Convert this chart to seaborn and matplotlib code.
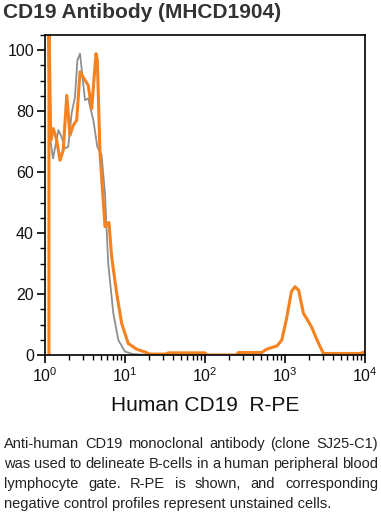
import numpy as np
import pandas as pd
import seaborn as sns
import matplotlib.pyplot as plt
from matplotlib.ticker import MultipleLocator, LogLocator

# Text
title = "CD19 Antibody (MHCD1904)"
x_label = "Human CD19  R-PE"
caption_lines = [
    "Anti-human CD19 monoclonal antibody (clone SJ25-C1)",
    "was used to delineate B-cells in a human peripheral blood",
    "lymphocyte gate. R-PE is shown, and corresponding",
    "negative control profiles represent unstained cells.",
]

# CD19 R-PE stained profile
cd19_x = [1.12, 1.12, 1.18, 1.27, 1.40, 1.54, 1.69, 1.87, 2.05, 2.26, 2.49, 2.74,
          3.16, 3.47, 3.83, 4.34, 4.51, 4.87, 5.62, 6.30, 6.81, 7.87, 9.08, 10.96,
          14.0, 18.6, 20.0, 32.0, 35.0, 100.0, 105.0, 250.0, 260.0, 510.0, 590.0,
          795.0, 912.0, 1047.0, 1202.0, 1334.0, 1479.0, 1698.0, 1862.0, 2138.0,
          2630.0, 3020.0, 8710.0, 10000.0]
cd19_y = [0, 110, 70.5, 74.3, 70.5, 63.9, 67.2, 85.2, 72.1, 75.4, 77.0, 92.9,
          90.2, 88.5, 80.8, 98.9, 96.7, 66.1, 42.1, 43.5, 32.2, 20.2, 10.4, 3.8,
          1.9, 0.8, 0.3, 0.3, 0.7, 0.7, 0.0, 0.0, 0.8, 0.8, 1.9,
          3.0, 4.9, 12.0, 20.8, 22.4, 21.3, 13.7, 12.0, 9.3,
          3.8, 0.5, 0.5, 1.0]

# unstained negative control
neg_x = [1.08, 1.15, 1.26, 1.47, 1.61, 1.78, 1.95, 2.15, 2.37, 2.54, 2.74, 3.16,
         3.47, 4.02, 4.51, 5.10, 5.62, 6.17, 7.14, 8.26, 10.0, 12.6, 20.0, 10000.0]
neg_y = [110, 71.6, 64.5, 73.8, 71.6, 67.8, 68.3, 79.2, 84.7, 96.7, 98.9, 83.6,
         84.2, 77.0, 68.3, 65.6, 53.0, 30.0, 13.7, 4.9, 1.1, 0.3, 0.0, 0.0]

cd19 = pd.DataFrame({"intensity": cd19_x, "count": cd19_y})
neg = pd.DataFrame({"intensity": neg_x, "count": neg_y})

sns.set_style("ticks")
plt.rcParams["font.family"] = ["Liberation Sans", "DejaVu Sans"]
plt.rcParams["mathtext.fontset"] = "custom"
plt.rcParams["mathtext.rm"] = "Liberation Sans"

W, H = 381, 515
fig = plt.figure(figsize=(W / 100, H / 100), dpi=100)
ax = fig.add_axes([45 / W, 160 / H, 320 / W, 320 / H])

sns.lineplot(data=neg, x="intensity", y="count", ax=ax, color="#8f8f8f",
             linewidth=1.3, sort=False, estimator=None)
sns.lineplot(data=cd19, x="intensity", y="count", ax=ax, color="#f5821f",
             linewidth=2.2, sort=False, estimator=None)

ax.set_xscale("log")
ax.set_xlim(1, 1e4)
ax.set_ylim(0, 105)
ax.yaxis.set_major_locator(MultipleLocator(20))
ax.yaxis.set_minor_locator(MultipleLocator(5))
ax.xaxis.set_major_locator(LogLocator(base=10))
ax.xaxis.set_minor_locator(LogLocator(base=10, subs=np.arange(2, 10)))

for s in ax.spines.values():
    s.set_color("black")
    s.set_linewidth(1.2)
ax.tick_params(which="major", direction="out", length=6, width=1.2,
               labelsize=11.5, color="black", labelcolor="#111111", pad=2)
ax.tick_params(which="minor", direction="out", length=3.6, width=1.0, color="black")

ax.set_xlabel(x_label, fontsize=15, color="#111111", labelpad=8)
ax.set_ylabel("")

fig.text(3 / W, 1 - 12 / H, title, fontsize=15, fontweight="bold",
         color="#333333", va="center", ha="left")

# justified caption
renderer = fig.canvas.get_renderer()
left, right = 4, 378
line_y = [444, 464, 484, 504]
cap_size = 10.5
for i, line in enumerate(caption_lines):
    yy = 1 - line_y[i] / H
    if i == len(caption_lines) - 1:
        fig.text(left / W, yy, line, fontsize=cap_size, color="#222222",
                 va="center", ha="left")
        continue
    words = line.split()
    pieces = [fig.text(0, yy, w, fontsize=cap_size, color="#222222",
                       va="center", ha="left") for w in words]
    widths = [p.get_window_extent(renderer).width for p in pieces]
    gap = (right - left - sum(widths)) / (len(words) - 1)
    x = left
    for p, w in zip(pieces, widths):
        p.set_x(x / W)
        x += w + gap

fig.savefig("out.png", dpi=100)
